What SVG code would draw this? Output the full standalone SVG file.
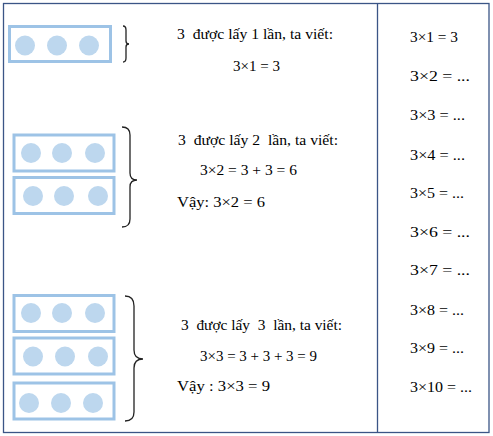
<svg xmlns="http://www.w3.org/2000/svg" width="493" height="436" viewBox="0 0 493 436">
<style>
.frame{fill:#fff;stroke:#3b5586;stroke-width:1.3}
.box{fill:#fff;stroke:#9dc3e6;stroke-width:3}
.dot{fill:#bdd7ee}
.brace{fill:none;stroke:#222;stroke-width:1.3}
text{font-family:"Liberation Serif","Times New Roman",serif;font-size:14px;fill:#000}
</style>
<rect class="frame" x="3.5" y="3.5" width="485.5" height="429"/>
<line x1="377.5" y1="3.5" x2="377.5" y2="432.5" stroke="#3b5586" stroke-width="1.3"/>

<g id="group1">
<rect class="box" x="9.5" y="26.5" width="101" height="35"/>
<circle class="dot" cx="25" cy="45.5" r="10"/>
<circle class="dot" cx="57" cy="45.5" r="10"/>
<circle class="dot" cx="89" cy="45.5" r="10"/>
<path class="brace" d="M123,26 Q126,26 126,30 L126,41 Q126,44 129,44 Q126,44 126,47 L126,58 Q126,62 123,62"/>
<text x="177" y="39" xml:space="preserve" textLength="156" lengthAdjust="spacingAndGlyphs">3  được lấy 1 lần, ta viết:</text>
<text x="233" y="71" textLength="47" lengthAdjust="spacingAndGlyphs">3×1 = 3</text>
</g>

<g id="group2">
<rect class="box" x="14" y="135" width="100" height="36"/>
<circle class="dot" cx="31" cy="153" r="10"/>
<circle class="dot" cx="62" cy="153" r="10"/>
<circle class="dot" cx="95" cy="153" r="10"/>
<rect class="box" x="14" y="177.5" width="100" height="36"/>
<circle class="dot" cx="33" cy="196" r="10"/>
<circle class="dot" cx="64" cy="196" r="10"/>
<circle class="dot" cx="98" cy="196" r="10"/>
<path class="brace" d="M122,127 Q130,127 130,135 L130,173 Q130,180 137,180 Q130,180 130,187 L130,219 Q130,227 122,227"/>
<text x="178" y="145" xml:space="preserve" textLength="160" lengthAdjust="spacingAndGlyphs">3  được lấy 2  lần, ta viết:</text>
<text x="200" y="175" textLength="97" lengthAdjust="spacingAndGlyphs">3×2 = 3 + 3 = 6</text>
<text x="177" y="207" textLength="88" lengthAdjust="spacingAndGlyphs">Vậy: 3×2 = 6</text>
</g>

<g id="group3">
<rect class="box" x="14" y="295.5" width="100" height="36"/>
<circle class="dot" cx="31" cy="313" r="10"/>
<circle class="dot" cx="62" cy="313" r="10"/>
<circle class="dot" cx="95" cy="313" r="10"/>
<rect class="box" x="14" y="338" width="100" height="36"/>
<circle class="dot" cx="33" cy="356.5" r="10"/>
<circle class="dot" cx="65" cy="356.5" r="10"/>
<circle class="dot" cx="98" cy="356.5" r="10"/>
<rect class="box" x="14" y="383" width="100" height="36"/>
<circle class="dot" cx="29" cy="403" r="10"/>
<circle class="dot" cx="61" cy="403" r="10"/>
<circle class="dot" cx="93" cy="403" r="10"/>
<path class="brace" d="M125,296 Q134,296 134,306 L134,350 Q134,359 143,359 Q134,359 134,368 L134,412 Q134,421 125,421"/>
<text x="181" y="330" xml:space="preserve" textLength="161" lengthAdjust="spacingAndGlyphs">3  được lấy  3  lần, ta viết:</text>
<text x="200" y="361" textLength="117" lengthAdjust="spacingAndGlyphs">3×3 = 3 + 3 + 3 = 9</text>
<text x="177" y="391" textLength="93" lengthAdjust="spacingAndGlyphs">Vậy : 3×3 = 9</text>
</g>

<g id="table">
<text x="410" y="42" textLength="48" lengthAdjust="spacingAndGlyphs">3×1 = 3</text>
<text x="410" y="81" textLength="60" lengthAdjust="spacingAndGlyphs">3×2 = ...</text>
<text x="410" y="120" textLength="55" lengthAdjust="spacingAndGlyphs">3×3 = ...</text>
<text x="410" y="160" textLength="55" lengthAdjust="spacingAndGlyphs">3×4 = ...</text>
<text x="410" y="198" textLength="54" lengthAdjust="spacingAndGlyphs">3×5 = ...</text>
<text x="410" y="237" textLength="60" lengthAdjust="spacingAndGlyphs">3×6 = ...</text>
<text x="410" y="275" textLength="60" lengthAdjust="spacingAndGlyphs">3×7 = ...</text>
<text x="410" y="315" textLength="54" lengthAdjust="spacingAndGlyphs">3×8 = ...</text>
<text x="410" y="353" textLength="54" lengthAdjust="spacingAndGlyphs">3×9 = ...</text>
<text x="410" y="392" textLength="62" lengthAdjust="spacingAndGlyphs">3×10 = ...</text>
</g>
</svg>
